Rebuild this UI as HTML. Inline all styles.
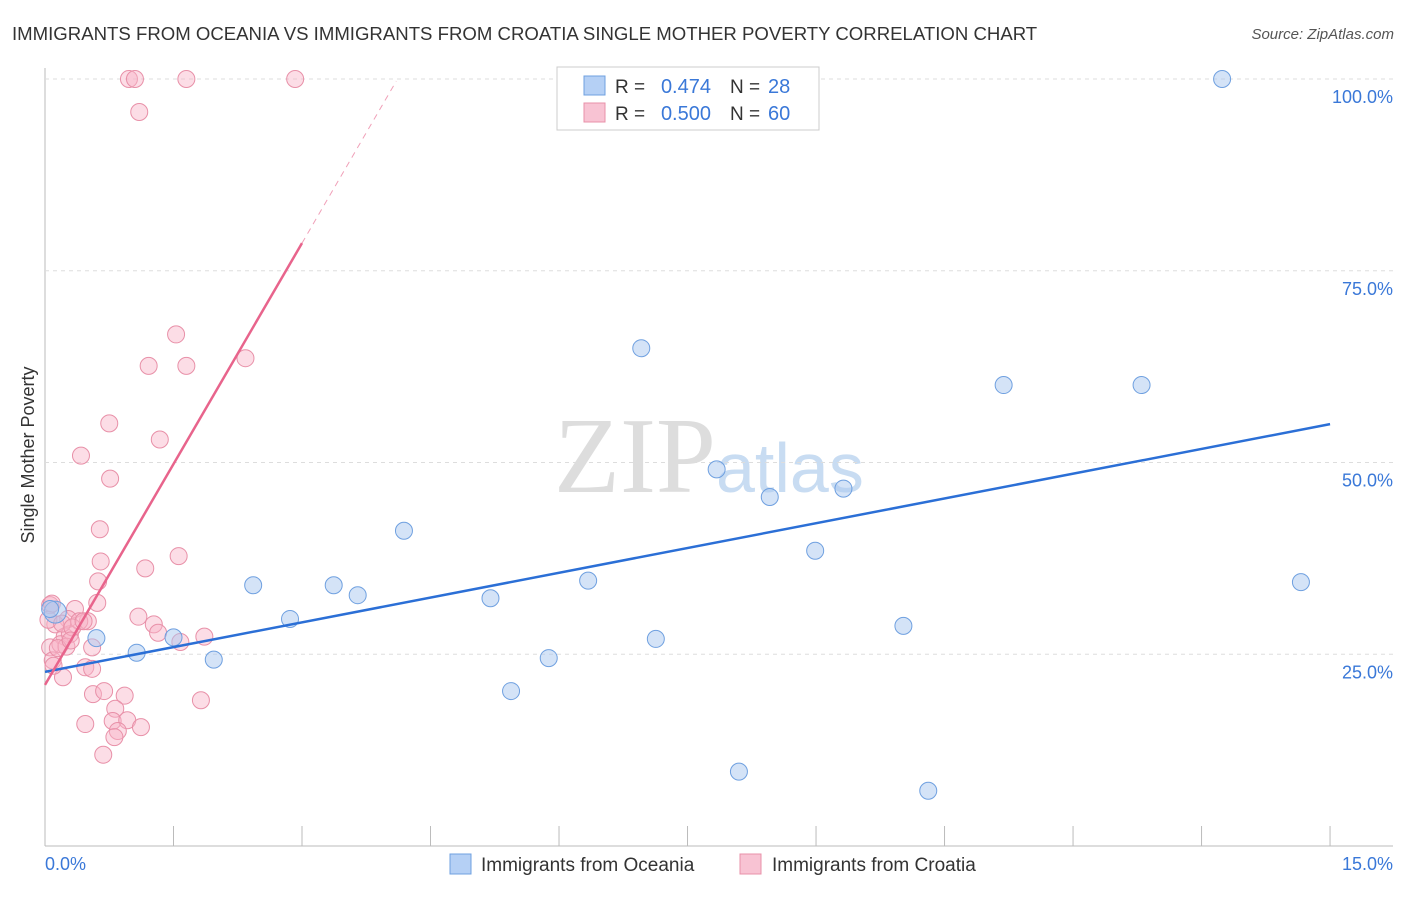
<!DOCTYPE html>
<html><head><meta charset="utf-8"><style>
body{margin:0;background:#fff;font-family:"Liberation Sans",sans-serif}
</style></head><body>
<svg id="c" width="1406" height="892" xmlns="http://www.w3.org/2000/svg">
<text x="12" y="40" font-size="18.6" fill="#333">IMMIGRANTS FROM OCEANIA VS IMMIGRANTS FROM CROATIA SINGLE MOTHER POVERTY CORRELATION CHART</text>
<text x="1394" y="39" font-size="15" fill="#555" font-style="italic" text-anchor="end">Source: ZipAtlas.com</text>
<text x="716" y="492" font-size="108" fill="#ddd" font-family="Liberation Serif,serif" text-anchor="end">ZIP</text>
<text x="716" y="492" font-size="70" fill="#c8dcf2">atlas</text>
<text transform="translate(34,455) rotate(-90)" font-size="18" fill="#333" text-anchor="middle">Single Mother Poverty</text>
<g id="grid"></g><g id="pts"></g><g id="lines"></g>
<g>
<rect x="557" y="67" width="262" height="63" fill="#fff" stroke="#ccc"/>
<rect x="584" y="76" width="21" height="19" fill="#b5d0f5" stroke="#6fa0e0"/>
<rect x="584" y="103" width="21" height="19" fill="#f8c3d3" stroke="#e890a8"/>
<text x="615" y="93" font-size="19" fill="#333">R =</text>
<text x="711" y="93" font-size="20" fill="#3a78d8" text-anchor="end">0.474</text>
<text x="730" y="93" font-size="19" fill="#333">N =</text>
<text x="768" y="93" font-size="20" fill="#3a78d8">28</text>
<text x="615" y="120" font-size="19" fill="#333">R =</text>
<text x="711" y="120" font-size="20" fill="#3a78d8" text-anchor="end">0.500</text>
<text x="730" y="120" font-size="19" fill="#333">N =</text>
<text x="768" y="120" font-size="20" fill="#3a78d8">60</text>
</g>
<g>
<rect x="450" y="854" width="21" height="20" fill="#b5d0f5" stroke="#6fa0e0"/>
<text x="481" y="871" font-size="19" fill="#333">Immigrants from Oceania</text>
<rect x="740" y="854" width="21" height="20" fill="#f8c3d3" stroke="#e890a8"/>
<text x="772" y="871" font-size="19" fill="#333">Immigrants from Croatia</text>
</g>
<text x="45" y="870" font-size="18" fill="#3a78d8">0.0%</text>
<text x="1393" y="870" font-size="18" fill="#3a78d8" text-anchor="end">15.0%</text>
</svg>
<script>
const yTicks=[25,50,75,100];
const yTickLabels=["25.0%","50.0%","75.0%","100.0%"];
const blueX=[0.12,0.6,1.07,1.5,1.97,2.43,2.86,3.37,3.65,4.19,5.2,5.44,5.88,6.34,6.96,7.13,7.84,8.1,8.46,8.99,9.32,10.02,10.31,11.19,12.8,13.74,14.66,0.06];
const blueY=[30.5,27.1,25.2,27.2,24.3,34.0,29.6,34.0,32.7,41.1,32.3,20.2,24.5,34.6,64.9,27.0,49.1,9.7,45.5,38.5,46.6,28.7,7.2,60.1,60.1,100,34.4,30.9];
const pinkX=[0.98,1.05,1.65,2.92,1.1,1.53,1.21,1.65,2.34,0.75,1.34,0.42,0.76,0.64,0.65,1.17,1.56,0.62,0.61,0.06,0.35,1.09,1.27,1.86,1.32,1.58,0.27,0.5,0.4,0.12,0.23,0.29,0.55,0.06,0.18,0.47,0.55,0.09,0.21,0.56,0.69,0.93,1.82,0.82,0.79,0.96,0.85,0.47,1.12,0.81,0.68,0.08,0.04,0.25,0.15,0.2,0.32,0.3,0.45,0.1];
const pinkY=[100,100,100,100,95.7,66.7,62.6,62.6,63.6,55.1,53.0,50.9,47.9,41.3,37.1,36.2,37.8,34.5,31.7,31.4,30.9,29.9,28.9,27.3,27.8,26.6,29.6,29.3,29.3,28.9,27.3,27.6,25.9,25.9,26.3,23.3,23.1,24.2,22.0,19.8,20.2,19.6,19.0,17.9,16.3,16.4,15.0,15.9,15.5,14.2,11.9,31.6,29.5,26.0,25.8,29.0,28.5,26.8,29.3,23.5];
const blueTrend=[22.7,55.0];
const pinkTrend=[21.0,19.2];
const X=v=>45+v*85.67, Y=v=>846-v*7.67;
const NS="http://www.w3.org/2000/svg";
function mk(t,a,p){const e=document.createElementNS(NS,t);for(const k in a)e.setAttribute(k,a[k]);p.appendChild(e);return e;}
const svg=document.getElementById('c'),grid=document.getElementById('grid'),pts=document.getElementById('pts'),lines=document.getElementById('lines');
mk('line',{x1:45,y1:68,x2:45,y2:846,stroke:'#bbb'},grid);
mk('line',{x1:45,y1:846,x2:1393,y2:846,stroke:'#bbb'},grid);
for(let i=0;i<=10;i++){const l=mk('line',{x1:X(i*1.5),y1:826,x2:X(i*1.5),y2:846,stroke:'#bbb'},grid);

}
yTicks.forEach((t,i)=>{const l=mk('line',{x1:45,y1:Y(t),x2:1393,y2:Y(t),stroke:'#ddd','stroke-dasharray':'4,4'},grid);


const tx=mk('text',{x:1393,y:Y(t)+24,'font-size':18,fill:'#3a78d8','text-anchor':'end'},grid);tx.textContent=yTickLabels[i];

});
pinkX.forEach((x,i)=>{const c=mk('circle',{cx:X(x),cy:Y(pinkY[i]),r:8.5,fill:'rgba(248,180,200,0.45)',stroke:'#e890a8','stroke-width':1},pts);

});
blueX.forEach((x,i)=>{const c=mk('circle',{cx:X(x),cy:Y(blueY[i]),r:i==0?11:8.5,fill:'rgba(170,200,240,0.5)',stroke:'#6fa0e0','stroke-width':1},pts);

});
let l=mk('line',{x1:X(0),y1:Y(blueTrend[0]),x2:X(15),y2:Y(blueTrend[1]),stroke:'#2b6fd6','stroke-width':2.5},lines);


l=mk('line',{x1:X(0),y1:Y(pinkTrend[0]),x2:X(3),y2:Y(pinkTrend[0]+pinkTrend[1]*3),stroke:'#e8648c','stroke-width':2.5},lines);


l=mk('line',{x1:X(3),y1:Y(pinkTrend[0]+pinkTrend[1]*3),x2:X(4.1),y2:Y(pinkTrend[0]+pinkTrend[1]*4.1),stroke:'#f0a0b8','stroke-width':1,'stroke-dasharray':'6,5'},lines);


</script>
</body></html>
